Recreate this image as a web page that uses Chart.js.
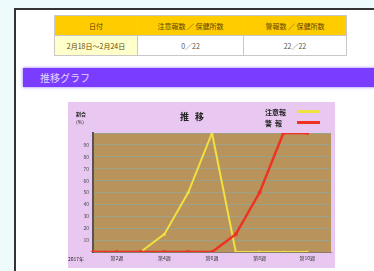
<!DOCTYPE html>
<html><head><meta charset="utf-8">
<script src="https://cdn.jsdelivr.net/npm/chart.js@4/dist/chart.umd.min.js"></script>
<style>
html,body{margin:0;padding:0;width:374px;height:271px;overflow:hidden;background:#eefbfc;font-family:"Noto Sans CJK JP",sans-serif;}
#page{position:absolute;left:14px;top:8px;width:400px;height:300px;background:#fff;border-left:2px solid #333;border-top:2px solid #333;}
table{position:absolute;left:38px;top:5px;border-collapse:collapse;font-size:7px;}
td{border:1px solid #c8c8c8;height:19px;padding:0;text-align:center;color:#555;}
td.h{background:#ffcc00;color:#664400;}
td.d{background:#ffffcc;color:#664400;}
#bar{position:absolute;left:7px;top:58px;width:400px;height:19px;background:#7a3cff;box-shadow:0 0 3px #9a70ff;color:#e4d8ff;font-size:10px;line-height:19px;padding-left:17px;box-sizing:border-box;}
#box{position:absolute;left:68px;top:102px;width:267px;height:166px;background:#e8c8f0;}
#cv{position:absolute;left:0;top:0;}
.t{position:absolute;white-space:nowrap;color:#222;}
</style></head>
<body>
<div id="page">
<table>
<tr><td class="h" style="width:82px">日付</td><td class="h" style="width:105px">注意報数 ／ 保健所数</td><td class="h" style="width:102px">警報数 ／ 保健所数</td></tr>
<tr><td class="d">2月18日～2月24日</td><td>0／22</td><td>22／22</td></tr>
</table>
<div id="bar">推移グラフ</div>
</div>
<div id="box">
<canvas id="cv" width="267" height="166"></canvas>
<div class="t" style="left:112px;top:8px;font-size:9px;font-weight:bold;letter-spacing:6px;">推移</div>
<div class="t" style="left:197px;top:5px;font-size:7px;font-weight:bold;">注意報</div>
<div style="position:absolute;left:229px;top:8px;width:23px;height:3px;background:#f0e040;"></div>
<div class="t" style="left:197px;top:16px;font-size:7px;font-weight:bold;letter-spacing:3px;">警報</div>
<div style="position:absolute;left:229px;top:19px;width:23px;height:3px;background:#ee3322;"></div>
<div class="t" style="left:8px;top:8px;font-size:5px;font-weight:bold;">割合</div>
<div class="t" style="left:8px;top:16px;font-size:5px;">(%)</div>
<div class="t" style="left:0px;top:153px;font-size:5px;">2017年</div>
</div>
<script>
const categories = ['第1週','第2週','第3週','第4週','第5週','第6週','第7週','第8週','第9週','第10週'];
const chuihoValues = [0, 0, 0, 15, 50, 100, 0, 0, 0, 0];
const keihoValues  = [0, 0, 0, 0, 0, 0, 15, 50, 100, 100];
const yTickValues = [10, 20, 30, 40, 50, 60, 70, 80, 90];
const shownTickIndex = [1, 3, 5, 7, 9];

const bgPlugin = {
  id: 'plotBg',
  beforeDraw(chart) {
    const a = chart.chartArea, c = chart.ctx;
    c.save(); c.fillStyle = '#b8945c'; c.fillRect(a.left, a.top, a.right - a.left, a.bottom - a.top); c.restore();
  }
};

new Chart(document.getElementById('cv'), {
  type: 'line',
  data: {
    labels: categories.concat(['']),
    datasets: [
      { label: '警報', data: keihoValues, borderColor: '#ee3322', backgroundColor: '#ee3322', borderWidth: 2.5, pointRadius: 2, pointBorderWidth: 0, tension: 0, order: 0 },
      { label: '注意報', data: chuihoValues, borderColor: '#f0e040', backgroundColor: '#f0e040', borderWidth: 2, pointRadius: 1.5, pointBorderWidth: 0, tension: 0, order: 1 }
    ]
  },
  options: {
    responsive: false, animation: false,
    layout: { padding: { top: 31, right: 3, left: 0, bottom: 0 } },
    plugins: { legend: { display: false }, title: { display: false }, tooltip: { enabled: false } },
    scales: {
      x: {
        offset: false,
        grid: { display: false },
        border: { color: '#8a7a70', width: 1 },
        ticks: {
          autoSkip: false, maxRotation: 0, padding: -5, color: '#333',
          font: { size: 5, family: 'Noto Sans CJK JP' },
          callback: (v, i) => shownTickIndex.includes(i) ? categories[i] : ''
        },
        afterFit: s => { s.height = 16; }
      },
      y: {
        min: 0, max: 100,
        afterBuildTicks: s => { s.ticks = [0].concat(yTickValues, [100]).map(v => ({ value: v })); },
        grid: { color: '#9aa28c', lineWidth: 1, drawTicks: false },
        border: { color: '#555', width: 2 },
        ticks: {
          padding: 4, color: '#444',
          font: { size: 5, family: 'Noto Sans CJK JP' },
          callback: v => yTickValues.includes(v) ? v : ''
        },
        afterFit: s => { s.width = 25; }
      }
    }
  },
  plugins: [bgPlugin]
});
</script>
</body></html>
